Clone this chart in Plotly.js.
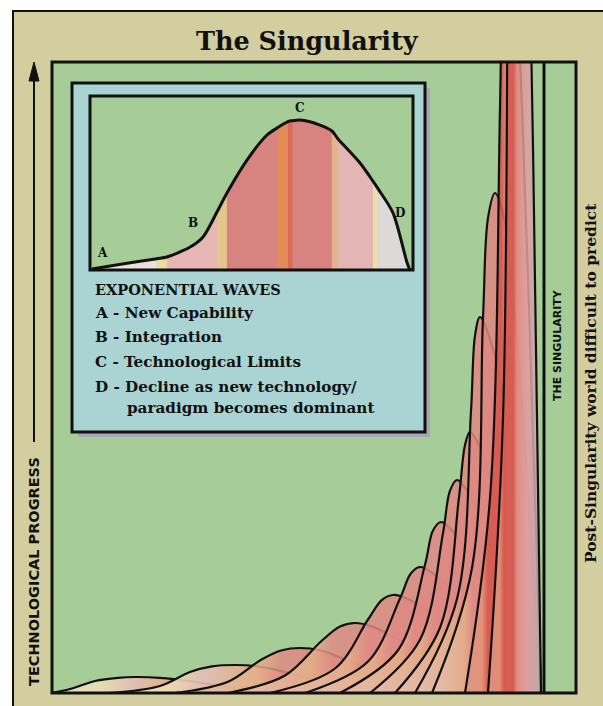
<!DOCTYPE html>
<html><head><meta charset="utf-8">
<script src="https://cdn.plot.ly/plotly-3.0.1.min.js"></script>
<style>html,body{margin:0;padding:0;background:#fff}#c{width:603px;height:706px}</style>
</head><body><div id="c"></div>
<script>
// ---- Main chart: successive exponential waves (pixel-like units) ----
const waveStart = [52,110,175,228,270,305,340,370,395,415,432,465,488];
const waveRise1 = [70,160,228,285,335,368,398,420,440,457,472,490,503];   // x at 1/4 height, rising
const waveRise3 = [95,190,262,322,368,400,425,443,459,471,483,500,508];   // x at 3/4 height, rising
const waveTopL  = [118,212,282,340,382,411,433,450,465,475,488,503,510];  // x at 95% height, rising
const wavePeakX = [135,235,300,355,393,420,441,457,470,480,495,507,514];
const wavePeakY = [16,28,45,70,98,126,171,213,261,376,500,780,1100];
const waveTopR  = [160,258,320,372,410,433,452,467,479,489,504,514,521];  // x at 95% height, falling
const waveFall3 = [190,285,345,400,440,460,475,487,496,506,515,522,528];  // x at 3/4 height, falling
const waveFall1 = [240,340,405,468,500,510,518,524,527,530,533,535,537];  // x at 1/4 height, falling
const waveEnd   = [300,400,455,505,528,533,536,538,539,540,540,541,541];

// ---- Inset: one exponential wave (0-100 units) ----
const insetX = [0.6,10,20.7,23.8,31.0,35.0,39.3,42.4,48.6,54.8,57.9,61.3,62.8,65.0,71.2,74.9,76.8,83.6,87.6,89.2,93.8,98.1,99];
const insetY = [0.6,3.4,6.5,7.5,13.2,19.0,33.3,44.3,63.2,77.6,81.6,85.3,85.8,86.2,83.3,79.9,75.3,61.5,51.1,46.6,32.8,4.6,0];
const bandEdges  = [0.6,20.7,23.8,39.3,42.4,57.9,61.3,62.8,74.9,76.8,87.6,89.2,99];
const bandColors = ['#e9e1dc','#eadba6','#e6b7b5','#e6c48e','#d98380','#e28c55','#dc6a58','#d98380','#e4b48c','#e4b5b5','#ebdfa6','#ddd9d9'];
const pointLabels = ['A','B','C','D'];
const pointLabelX = [4,32,65,96];
const pointLabelY = [10,27,93,33];

const legendTitle = 'EXPONENTIAL WAVES';
const legendLines = ['A - New Capability','B - Integration','C - Technological Limits','D - Decline as new technology/','paradigm becomes dominant'];

// ---- styles ----
const GREEN='#a6cc97', TAN='#d3cea0', BLUE='#a9d4d3';
const earlyScale=[[0,'rgba(236,226,220,0.9)'],[0.2,'rgba(236,222,176,0.9)'],[0.32,'rgba(230,190,184,0.9)'],[0.45,'rgba(228,176,140,0.9)'],[0.55,'rgba(224,150,144,0.9)'],[0.8,'rgba(226,170,166,0.9)'],[1,'rgba(225,190,186,0.9)']];
const midScale=[[0,'rgba(230,190,184,0.85)'],[0.3,'rgba(228,176,136,0.85)'],[0.38,'rgba(223,138,132,0.85)'],[0.8,'rgba(221,130,124,0.85)'],[0.92,'rgba(224,150,146,0.85)'],[1,'rgba(212,160,160,0.85)']];
const lateScale=[[0,'rgba(224,146,140,0.85)'],[0.22,'rgba(226,150,120,0.85)'],[0.3,'rgba(214,86,76,0.88)'],[0.48,'rgba(214,86,76,0.88)'],[0.55,'rgba(224,140,132,0.85)'],[0.75,'rgba(222,160,160,0.85)'],[1,'rgba(190,168,172,0.9)']];
const waveScale=i=> i<2?earlyScale:(i<11?midScale:lateScale);

const PX = v => (v-52)/524, PY = v => (693-v)/631;

const traces = [];
for (let i=0;i<waveStart.length;i++){
  const h = wavePeakY[i];
  traces.push({type:'scatter',mode:'lines',hoverinfo:'skip',
    x:[waveStart[i],waveRise1[i],waveRise3[i],waveTopL[i],wavePeakX[i],waveTopR[i],waveFall3[i],waveFall1[i],waveEnd[i]],
    y:[0,h*0.25,h*0.75,h*0.95,h,h*0.95,h*0.75,h*0.25,0],
    line:{color:'#111',width:2.2,shape:'spline',smoothing:1},
    fill:'tozeroy',fillcolor:'rgba(222,134,128,0.85)',
    fillgradient:{type:'horizontal',colorscale:waveScale(i)}});
}
for (let b=0;b<bandColors.length;b++){
  const xs=[],ys=[];
  insetX.forEach((x,k)=>{ if(x>=bandEdges[b]-1e-9 && x<=bandEdges[b+1]+1e-9){xs.push(x);ys.push(insetY[k]);} });
  traces.push({type:'scatter',mode:'lines',xaxis:'x2',yaxis:'y2',hoverinfo:'skip',x:xs,y:ys,
    line:{width:0,shape:'spline',smoothing:0.8},fill:'tozeroy',fillcolor:bandColors[b]});
}
traces.push({type:'scatter',mode:'lines',xaxis:'x2',yaxis:'y2',hoverinfo:'skip',x:insetX,y:insetY,
  line:{color:'#111',width:3,shape:'spline',smoothing:0.8}});

const rect=(x0,y0,x1,y1,o)=>Object.assign({type:'rect',xref:'paper',yref:'paper',x0:PX(x0),x1:PX(x1),y0:PY(y1),y1:PY(y0)},o);
const shapes=[
  rect(13,11,640,760,{fillcolor:TAN,line:{color:'#111',width:2},layer:'below'}),
  rect(52,62,576,693,{fillcolor:GREEN,line:{width:0},layer:'below'}),
  rect(78,88,430,437,{fillcolor:'#aaa4b4',line:{width:0},layer:'below'}),
  rect(72,83,425,432,{fillcolor:BLUE,line:{width:0},layer:'below'}),
  rect(90,96,413,270,{fillcolor:GREEN,line:{width:0},layer:'below'}),
  rect(52,62,576,693,{line:{color:'#111',width:3},layer:'above'}),
  rect(72,83,425,432,{line:{color:'#111',width:3},layer:'above'}),
  rect(90,96,413,270,{line:{color:'#111',width:3},layer:'above'}),
  {type:'line',xref:'paper',yref:'paper',x0:PX(544),x1:PX(544),y0:PY(693),y1:PY(62),line:{color:'#111',width:3},layer:'above'},
  {type:'line',xref:'paper',yref:'paper',x0:PX(34),x1:PX(34),y0:PY(442),y1:PY(75),line:{color:'#111',width:2}},
  {type:'path',xref:'paper',yref:'paper',fillcolor:'#111',line:{color:'#111',width:1},
   path:`M ${PX(34)},${PY(62)} L ${PX(29)},${PY(81)} L ${PX(39)},${PY(81)} Z`}
];

const SERIF='DejaVu Serif', SANS='DejaVu Sans';
const A=(o)=>Object.assign({xref:'paper',yref:'paper',showarrow:false,xanchor:'center',yanchor:'middle'},o);
const ann=[];
ann.push(A({x:PX(307),y:PY(41),text:'<b>The Singularity</b>',font:{family:SERIF,size:25.5,color:'#111'}}));
ann.push(A({x:PX(34),y:PY(572),text:'<b>TECHNOLOGICAL PROGRESS</b>',textangle:-90,font:{family:SANS,size:14.5,color:'#111'}}));
ann.push(A({x:PX(557),y:PY(345),text:'<b>THE SINGULARITY</b>',textangle:-90,font:{family:SANS,size:11,color:'#111'}}));
ann.push(A({x:PX(590),y:PY(383),text:'<b>Post-Singularity world difficult to predict</b>',textangle:-90,font:{family:SERIF,size:15.5,color:'#111'}}));
ann.push(A({x:PX(93),y:PY(289),xanchor:'left',text:'<b>'+legendTitle+'</b>',font:{family:SERIF,size:14.5,color:'#111'}}));
const legY=[313,337,362,387,408], legX=[93,93,93,93,125];
legendLines.forEach((t,k)=>ann.push(A({x:PX(legX[k]),y:PY(legY[k]),xanchor:'left',text:'<b>'+t+'</b>',font:{family:SERIF,size:15.2,color:'#111'}})));
pointLabels.forEach((t,k)=>ann.push(A({xref:'x2',yref:'y2',x:pointLabelX[k],y:pointLabelY[k],text:'<b>'+t+'</b>',font:{family:SERIF,size:12,color:'#111'}})));

const layout={width:603,height:706,margin:{l:52,r:27,t:62,b:13},paper_bgcolor:'#fff',plot_bgcolor:'rgba(0,0,0,0)',
  showlegend:false,
  xaxis:{range:[52,576],visible:false,fixedrange:true},
  yaxis:{range:[0,631],visible:false,fixedrange:true},
  xaxis2:{domain:[PX(90),PX(413)],range:[0,100],visible:false,anchor:'y2'},
  yaxis2:{domain:[PY(270),PY(96)],range:[0,100],visible:false,anchor:'x2'},
  shapes:shapes,annotations:ann};
Plotly.newPlot('c',traces,layout,{displayModeBar:false,staticPlot:true});
</script></body></html>
